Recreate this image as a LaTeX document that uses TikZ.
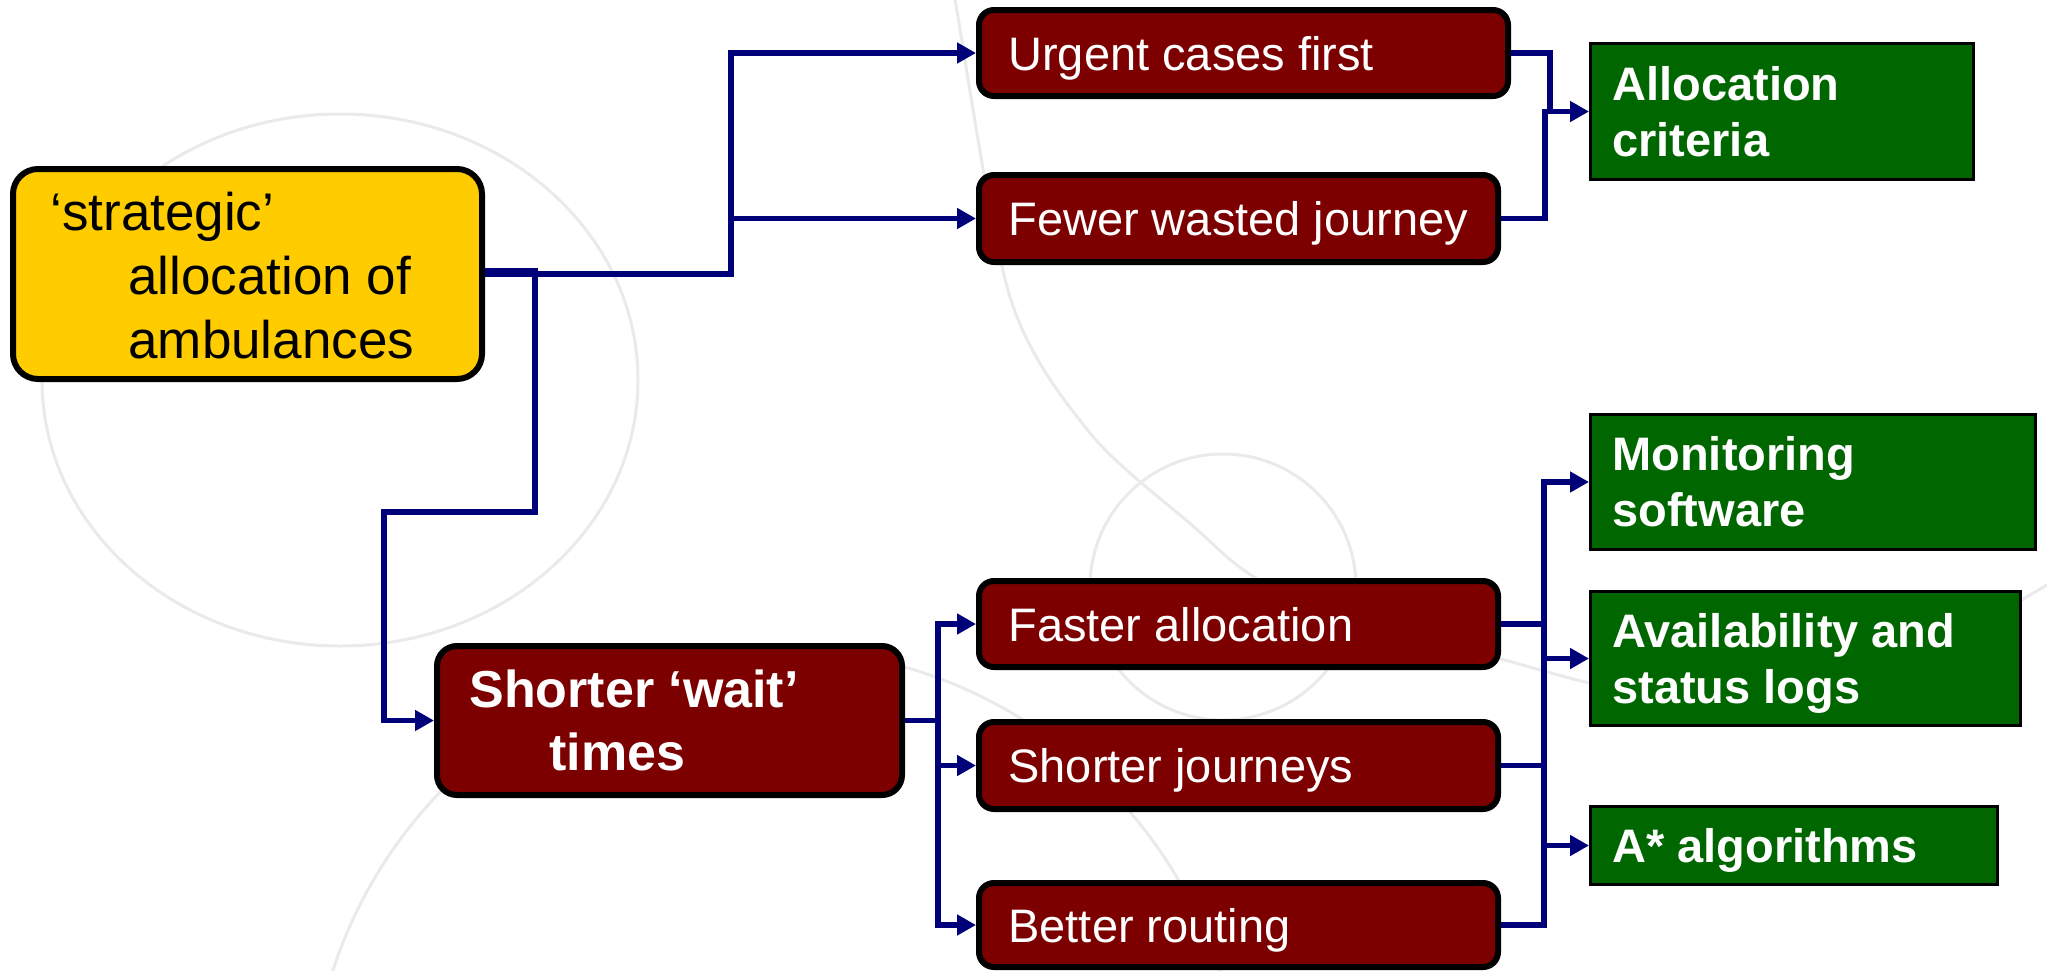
\documentclass[tikz,border=0pt]{standalone}
\usepackage{fontspec}
\setmainfont{Liberation Sans}
\usetikzlibrary{arrows.meta}

\definecolor{navyline}{RGB}{0,0,120}
\definecolor{boxred}{RGB}{125,0,0}
\definecolor{boxgreen}{RGB}{0,102,0}
\definecolor{boxyellow}{RGB}{255,204,0}
\definecolor{watermark}{RGB}{234,234,237}

\begin{document}
\begin{tikzpicture}[x=0.5pt,y=-0.5pt,
  redbox/.style={draw=black, line width=3pt, fill=boxred, rounded corners=7.5pt, inner sep=0pt},
  greenbox/.style={draw=black, line width=1.5pt, fill=boxgreen, inner sep=0pt},
  yellowbox/.style={draw=black, line width=3pt, fill=boxyellow, rounded corners=12.5pt, inner sep=0pt},
  conn/.style={draw=navyline, line width=2.9pt, line join=miter},
  arr/.style={-{Triangle[length=9.5pt,width=10pt]}},
  wm/.style={draw=watermark, line width=1.5pt},
  txt/.style={anchor=base west, inner sep=0pt},
  redtxt/.style={txt, text=white, font=\fontsize{23.5pt}{28pt}\selectfont},
  greentxt/.style={txt, text=white, font=\fontsize{23.5pt}{28pt}\selectfont\bfseries},
]
\useasboundingbox (0,0) rectangle (2047,970);

% faint background rings
\begin{scope}
  \clip (0,0) rectangle (2047,970);
  \draw[wm] (340,380) ellipse [x radius=149pt, y radius=133pt];
  \draw[wm] (1223,587) circle [radius=66.5pt];
  \draw[wm] (776,1115) circle [radius=233pt];
  \draw[wm] plot[smooth] coordinates {(948,-40) (955,0) (1010,297) (1090,433) (1193,526)
      (1251,575) (1350,625) (1485,655) (1631,691) (1790,690) (1930,650) (2047,585) (2090,560)};
\end{scope}

% boxes
\node[yellowbox, minimum width=234.5pt, minimum height=105pt] (yel) at (247.5,274) {};
\node[redbox, rounded corners=10pt, minimum width=232.5pt, minimum height=74.5pt] (sw) at (669.5,720.5) {};
\node[redbox, minimum width=264.5pt, minimum height=43pt] (uc) at (1243.5,53) {};
\node[redbox, minimum width=259.5pt, minimum height=43.5pt] (fw) at (1238.5,218.5) {};
\node[redbox, minimum width=259.5pt, minimum height=43pt] (fa) at (1238.5,624) {};
\node[redbox, minimum width=259.5pt, minimum height=43.5pt] (sj) at (1238.5,765.5) {};
\node[redbox, minimum width=259.5pt, minimum height=42pt] (br) at (1238.5,925) {};
\node[greenbox, minimum width=191.5pt, minimum height=68pt] (ac) at (1782,111.5) {};
\node[greenbox, minimum width=222.5pt, minimum height=67.5pt] (ms) at (1813,482) {};
\node[greenbox, minimum width=215pt, minimum height=67pt] (al) at (1805.5,658.5) {};
\node[greenbox, minimum width=203.5pt, minimum height=39pt] (aa) at (1794,845.5) {};

% box texts
\begin{scope}[every node/.append style={txt}]
  \node[font=\fontsize{26.5pt}{32pt}\selectfont] (yel1) at (50,230) {‘strategic’};
  \node[font=\fontsize{26.5pt}{32pt}\selectfont] (yel2) at (128,294) {allocation of};
  \node[font=\fontsize{26.5pt}{32pt}\selectfont] (yel3) at (128,358) {ambulances};
  \node[text=white, font=\fontsize{26pt}{31pt}\selectfont\bfseries] (sw1) at (469,707) {Shorter ‘wait’};
  \node[text=white, font=\fontsize{26pt}{31pt}\selectfont\bfseries] (sw2) at (549,770) {times};
\end{scope}
\node[redtxt] (uct) at (1008,70) {Urgent cases first};
\node[redtxt] (fwt) at (1008,235.5) {Fewer wasted journey};
\node[redtxt] (fat) at (1008,641) {Faster allocation};
\node[redtxt] (sjt) at (1008,782.5) {Shorter journeys};
\node[redtxt] (brt) at (1008,942) {Better routing};
\node[greentxt] (ac1) at (1612,100) {Allocation};
\node[greentxt] (ac2) at (1612,156) {criteria};
\node[greentxt] (ms1) at (1612,470.5) {Monitoring};
\node[greentxt] (ms2) at (1612,526.5) {software};
\node[greentxt] (al1) at (1612,647) {Availability and};
\node[greentxt] (al2) at (1612,703) {status logs};
\node[greentxt] (aa1) at (1612,862.5) {A* algorithms};

% junction points
\coordinate (j1) at (731,274);
\coordinate (j2) at (535,512);
\coordinate (j2b) at (384,512);
\coordinate (j3) at (938,720.5);
\coordinate (j4) at (1545,111.5);
\coordinate (bus) at (1544,0);

% strategic allocation -> branches
\draw[conn,arr] (yel.east) -- (j1) |- (uc.west);
\draw[conn,arr] (j1 |- fw.west) -- (fw.west);
\draw[conn,arr] ([yshift=1.5pt]yel.east) -| (j2) -- (j2b) |- (sw.west);

% shorter wait times -> measures
\draw[conn] (sw.east) -- (j3);
\draw[conn,arr] (j3) |- (fa.west);
\draw[conn,arr] (j3) |- (sj.west);
\draw[conn,arr] (j3) |- (br.west);

% upper measures -> allocation criteria
\draw[conn] (uc.east) -| ([xshift=2.5pt]j4);
\draw[conn,arr] (fw.east) -| (j4) -- (ac.west);

% lower measures -> tools
\draw[conn,arr] (br.east) -| (bus |- ms.west) -- (ms.west);
\draw[conn] (fa.east) -- (bus |- fa.east);
\draw[conn] (sj.east) -- (bus |- sj.east);
\draw[conn,arr] (bus |- al.west) -- (al.west);
\draw[conn,arr] (bus |- aa.west) -- (aa.west);
\end{tikzpicture}
\end{document}
